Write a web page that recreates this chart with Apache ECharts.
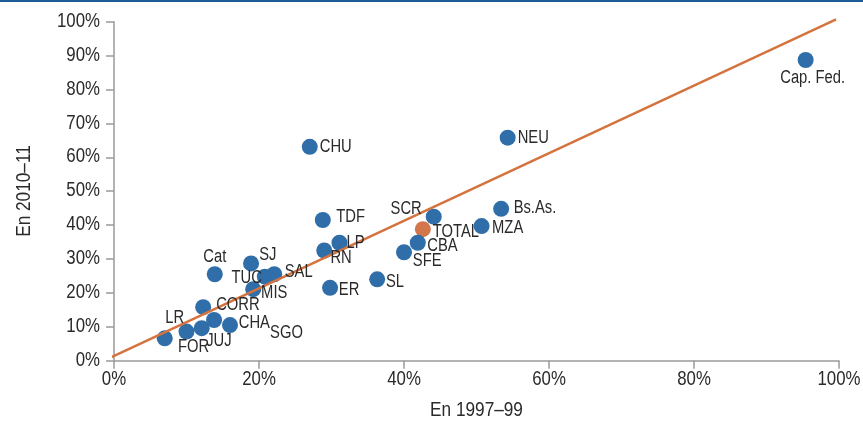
<!DOCTYPE html>
<html>
<head>
<meta charset="utf-8">
<script src="https://cdn.jsdelivr.net/npm/echarts@6/dist/echarts.min.js"></script>
<style>
html,body{margin:0;padding:0;background:#fff;}
#chart{width:863px;height:424px;}
</style>
</head>
<body>
<div id="chart"></div>
<script>
// ---- data ----
const names = ['Cap. Fed.','NEU','CHU','SCR','Bs.As.','TOTAL','MZA','TDF','LP','RN','CBA','SFE','SL','ER','Cat','SJ','TUC','SAL','MIS','CORR','LR','FOR','JUJ','SGO','CHA'];
const en1997 = [95.4,54.3,27.0,44.1,53.4,42.6,50.7,28.8,31.1,29.0,41.9,40.0,36.3,29.8,13.9,18.9,20.8,22.1,19.2,12.3,7.0,10.0,12.1,13.8,16.0];
const en2010 = [88.7,65.8,63.1,42.5,44.8,38.8,39.7,41.5,34.8,32.5,34.8,32.0,24.0,21.5,25.5,28.7,24.8,25.5,21.1,15.8,6.6,8.6,9.6,12.0,10.5];
const lineX = [-0.5, 99.6];
const lineY = [0.9, 100.7];
const xTicks = [0,20,40,60,80,100];
const yTicks = [0,10,20,30,40,50,60,70,80,90,100];
const xTitle = 'En 1997–99';
const yTitle = 'En 2010–11';

// ---- label placement (style) ----
const labelAnchor = {
  'Cap. Fed.':['center',7,18], 'NEU':['left',10,0], 'CHU':['left',10,0],
  'SCR':['right',-12,-8], 'Bs.As.':['left',12.5,-1], 'TOTAL':['left',10,2.4],
  'MZA':['left',10.5,1.7], 'TDF':['left',13.5,-2.7], 'LP':['left',7,0],
  'RN':['left',6.2,7.6], 'CBA':['left',9.5,3], 'SFE':['left',8.8,8.7],
  'SL':['left',8.8,2.4], 'ER':['left',8.8,2.3], 'Cat':['center',0,-17.6],
  'SJ':['left',8.1,-8.3], 'TUC':['right',-3,1], 'SAL':['left',10.5,-2.6],
  'MIS':['left',7.9,3.4], 'CORR':['left',13,-2.3], 'LR':['center',10,-20],
  'FOR':['center',7,15], 'JUJ':['left',4.5,12.4], 'SGO':['left',56,13.3],
  'CHA':['left',8.8,-1.7]
};

const FONTFAM = "'Liberation Sans', Arial, sans-serif";
const NARROW = 0.82;
const TXT = '#2a2a2a';
const BLUE = '#2f6ea8';
const ORANGE = '#d5733f';

const scatterData = names.map((n,i)=>{
  const item = {name: n, value: [en1997[i], en2010[i]]};
  if (n === 'TOTAL') item.itemStyle = {color: '#d4764c'};
  return item;
});

const chart = echarts.init(document.getElementById('chart'), null, {renderer:'canvas'});
chart.setOption({
  animation: false,
  backgroundColor: '#fff',
  graphic: [
    {type: 'rect', x: 0, y: 0, shape: {width: 863, height: 2}, style: {fill: '#1c5b98'}, z: 100},
    {type: 'text', x: 476.5, y: 410, scaleX: NARROW,
     style: {text: xTitle, font: '21px ' + FONTFAM, fill: TXT, align: 'center', verticalAlign: 'middle'}},
    {type: 'text', x: 24, y: 191, rotation: Math.PI/2, scaleX: NARROW,
     style: {text: yTitle, font: '21px ' + FONTFAM, fill: TXT, align: 'center', verticalAlign: 'middle'}}
  ],
  grid: {left: 114, right: 24, top: 21.7, bottom: 63.3, containLabel: false},
  xAxis: {
    type: 'value', min: xTicks[0], max: xTicks[xTicks.length-1], interval: 20,
    axisLine: {show: true, lineStyle: {color: '#9a9a9a', width: 1.5}},
    axisTick: {show: true, length: 8, inside: false, lineStyle: {color: '#9a9a9a', width: 1.5}},
    axisLabel: {show: false},
    splitLine: {show: false}
  },
  yAxis: {
    type: 'value', min: yTicks[0], max: yTicks[yTicks.length-1], interval: 10,
    axisLine: {show: true, lineStyle: {color: '#9a9a9a', width: 1.5}},
    axisTick: {show: true, length: 8, inside: false, lineStyle: {color: '#9a9a9a', width: 1.5}},
    axisLabel: {show: false},
    splitLine: {show: false}
  },
  series: [
    {
      type: 'scatter', symbol: 'circle', symbolSize: 16,
      itemStyle: {color: BLUE, opacity: 1},
      data: scatterData, z: 2
    },
    {
      type: 'line', data: lineX.map((x,i)=>[x, lineY[i]]), showSymbol: false,
      symbol: 'none', clip: false,
      lineStyle: {color: ORANGE, width: 2.5}, z: 3, silent: true
    },
    { // point labels (narrow type)
      type: 'custom', clip: false, silent: true, z: 4,
      data: names.map((n,i)=>[en1997[i], en2010[i], i]),
      renderItem: function(params, api){
        const i = api.value(2);
        const n = names[i];
        const a = labelAnchor[n];
        const p = api.coord([api.value(0), api.value(1)]);
        return {type: 'text', x: p[0] + a[1], y: p[1] + a[2], scaleX: NARROW,
          style: {text: n, font: '18px ' + FONTFAM, fill: TXT, align: a[0], verticalAlign: 'middle'}};
      }
    },
    { // x tick labels
      type: 'custom', clip: false, silent: true, z: 4,
      data: xTicks.map(v=>[v, 0]),
      renderItem: function(params, api){
        const v = api.value(0);
        const p = api.coord([v, 0]);
        return {type: 'text', x: p[0], y: p[1] + 18.5, scaleX: NARROW,
          style: {text: v + '%', font: '20.5px ' + FONTFAM, fill: TXT, align: 'center', verticalAlign: 'middle'}};
      }
    },
    { // y tick labels
      type: 'custom', clip: false, silent: true, z: 4,
      data: yTicks.map(v=>[0, v]),
      renderItem: function(params, api){
        const v = api.value(1);
        const p = api.coord([0, v]);
        return {type: 'text', x: p[0] - 14, y: p[1] - 0.5, scaleX: NARROW,
          style: {text: v + '%', font: '20.5px ' + FONTFAM, fill: TXT, align: 'right', verticalAlign: 'middle'}};
      }
    }
  ]
});
</script>
</body>
</html>
